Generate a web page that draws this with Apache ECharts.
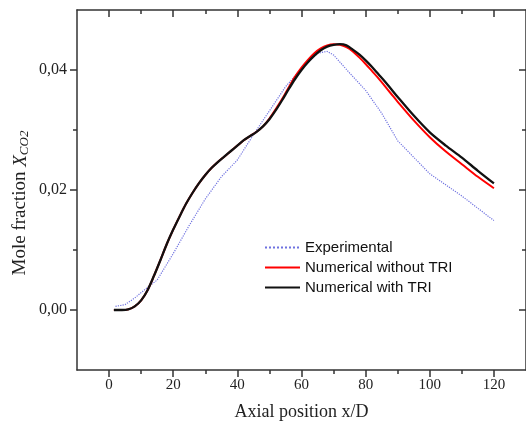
<!DOCTYPE html>
<html>
<head>
<meta charset="UTF-8">
<title>Mole fraction CO2</title>
<script src="https://cdn.jsdelivr.net/npm/echarts@6/dist/echarts.min.js"></script>
<style>
  html, body { margin: 0; padding: 0; background: #fff; }
  #chart { width: 526px; height: 433px; }
</style>
</head>
<body>
<div id="chart"></div>
<script type="text/javascript">
// experimental points
var xExp = [2, 5, 8, 10, 15, 20, 25, 30, 35, 40, 45, 50, 55, 60, 65, 68, 70, 75, 80, 85, 90, 100, 110, 120];
var yExp = [0.0006, 0.0009, 0.0020, 0.0029, 0.0050, 0.0094, 0.0141, 0.0185, 0.0222, 0.0250, 0.0292, 0.0332, 0.0372,
            0.0402, 0.0428, 0.0431, 0.0425, 0.0395, 0.0366, 0.0328, 0.0282, 0.0227, 0.0190, 0.0149];

// numerical results
var xNum = [1.5, 4, 6, 8, 10, 12, 14, 16, 18, 20, 22, 24, 26, 28, 30, 32, 34, 36, 38, 40, 42, 44, 46, 48, 50,
            52, 54, 56, 58, 60, 62, 64, 66, 68, 70, 72, 74, 76, 78, 80, 82, 84, 86, 88, 90, 95, 100, 105, 110, 115, 120];
var yNoTri = [0, 0, 0.0001, 0.0006, 0.0016, 0.0033, 0.0057, 0.0083, 0.0110, 0.0134, 0.0156, 0.0177, 0.0195, 0.0211,
              0.0225, 0.0237, 0.0247, 0.0256, 0.0265, 0.0274, 0.0283, 0.0290, 0.0297, 0.0306, 0.0319,
              0.0335, 0.0352, 0.0371, 0.0389, 0.0404, 0.0417, 0.0428, 0.0436, 0.0441, 0.0443, 0.0442, 0.0438,
              0.0431, 0.0421, 0.0410, 0.0398, 0.0386, 0.0373, 0.0360, 0.0347, 0.0316, 0.0288, 0.0264, 0.0243, 0.0222, 0.0203];
var yTri = [0, 0, 0.0001, 0.0006, 0.0016, 0.0033, 0.0057, 0.0083, 0.0110, 0.0134, 0.0156, 0.0177, 0.0195, 0.0211,
            0.0225, 0.0237, 0.0247, 0.0256, 0.0265, 0.0274, 0.0283, 0.0290, 0.0297, 0.0306, 0.0318,
            0.0333, 0.0350, 0.0368, 0.0385, 0.0400, 0.0413, 0.0424, 0.0433, 0.0439, 0.0442, 0.0443, 0.0441,
            0.0434, 0.0426, 0.0416, 0.0405, 0.0393, 0.0381, 0.0368, 0.0355, 0.0324, 0.0296, 0.0274, 0.0254, 0.0232, 0.0211];

// ticks
var xMajor = [0, 20, 40, 60, 80, 100, 120];
var xMinor = [10, 30, 50, 70, 90, 110];
var yMajor = [0, 0.02, 0.04];
var yMinor = [0.01, 0.03];

function pairs(xs, ys) {
	var out = [];
	for (var i = 0; i < xs.length; i++) {
		out.push([xs[i], ys[i]]);
	}
	return out;
}

var axisColor = '#333';
var serif = 'Liberation Serif';

function xAx(pos, ticks, len, inside, showLine, labels) {
	return {
		type: 'value', position: pos, min: -10, max: 130, offset: 0,
		axisLine: { show: showLine, onZero: false, lineStyle: { color: axisColor, width: 1.5 } },
		axisTick: { show: true, inside: inside, length: len, customValues: ticks, lineStyle: { color: axisColor, width: 1.5 } },
		axisLabel: labels ? { show: true, customValues: ticks, margin: 8, color: '#222', fontFamily: serif, fontSize: 15 } : { show: false },
		splitLine: { show: false }
	};
}

function yAx(pos, ticks, len, inside, showLine, labels) {
	return {
		type: 'value', position: pos, min: -0.01, max: 0.05, offset: 0,
		axisLine: { show: showLine, onZero: false, lineStyle: { color: axisColor, width: 1.5 } },
		axisTick: { show: true, inside: inside, length: len, customValues: ticks, lineStyle: { color: axisColor, width: 1.5 } },
		axisLabel: labels ? {
			show: true, customValues: ticks, margin: 10, color: '#222', fontFamily: serif, fontSize: 16,
			formatter: function (v) { return v.toFixed(2).replace('.', ','); }
		} : { show: false },
		splitLine: { show: false }
	};
}

var xBottom = xAx('bottom', xMajor, 7, false, true, true);
xBottom.name = 'Axial position x/D';
xBottom.nameLocation = 'middle';
xBottom.nameGap = 33;
xBottom.nameTextStyle = { fontFamily: serif, fontSize: 18, color: '#222' };

var yLeft = yAx('left', yMajor, 7, false, true, true);
yLeft.name = 'Mole fraction {i|X}{s|CO2}';
yLeft.nameLocation = 'middle';
yLeft.nameGap = 46;
yLeft.nameMoveOverlap = false;
yLeft.nameTextStyle = {
	fontFamily: serif, fontSize: 19, color: '#222', padding: [0, 26, 0, 0],
	rich: {
		i: { fontFamily: serif, fontSize: 19, fontStyle: 'italic', color: '#222' },
		s: { fontFamily: serif, fontSize: 13, fontStyle: 'italic', color: '#222', padding: [8, 0, 0, 0] }
	}
};

var myChart = echarts.init(document.getElementById('chart'));
var option = {
	animation: false,
	grid: { left: 77, top: 10, right: -2, bottom: 63 },
	legend: {
		left: 259, top: 235, orient: 'vertical',
		itemWidth: 35, itemHeight: 14, itemGap: 5,
		itemStyle: { opacity: 0 },
		textStyle: { fontFamily: 'Liberation Sans', fontSize: 15, color: '#111' },
		data: ['Experimental', 'Numerical without TRI', 'Numerical with TRI']
	},
	xAxis: [
		xBottom,
		xAx('bottom', xMinor, 4, false, false, false),
		xAx('top', xMajor, 7, true, true, false),
		xAx('top', xMinor, 4, true, false, false)
	],
	yAxis: [
		yLeft,
		yAx('left', yMinor, 4, false, false, false),
		yAx('right', yMajor, 7, true, true, false),
		yAx('right', yMinor, 4, true, false, false)
	],
	series: [
		{
			name: 'Experimental', type: 'line', symbol: 'none',
			lineStyle: { color: '#6f72e0', width: 1.2, type: 'dotted' },
			itemStyle: { color: '#6f72e0' },
			data: pairs(xExp, yExp)
		},
		{
			name: 'Numerical without TRI', type: 'line', symbol: 'none', smooth: 0.3,
			lineStyle: { color: '#ff0000', width: 2 },
			itemStyle: { color: '#ff0000' },
			data: pairs(xNum, yNoTri)
		},
		{
			name: 'Numerical with TRI', type: 'line', symbol: 'none', smooth: 0.3,
			lineStyle: { color: '#111', width: 2.3 },
			itemStyle: { color: '#111' },
			data: pairs(xNum, yTri)
		}
	]
};
myChart.setOption(option);
</script>
</body>
</html>
